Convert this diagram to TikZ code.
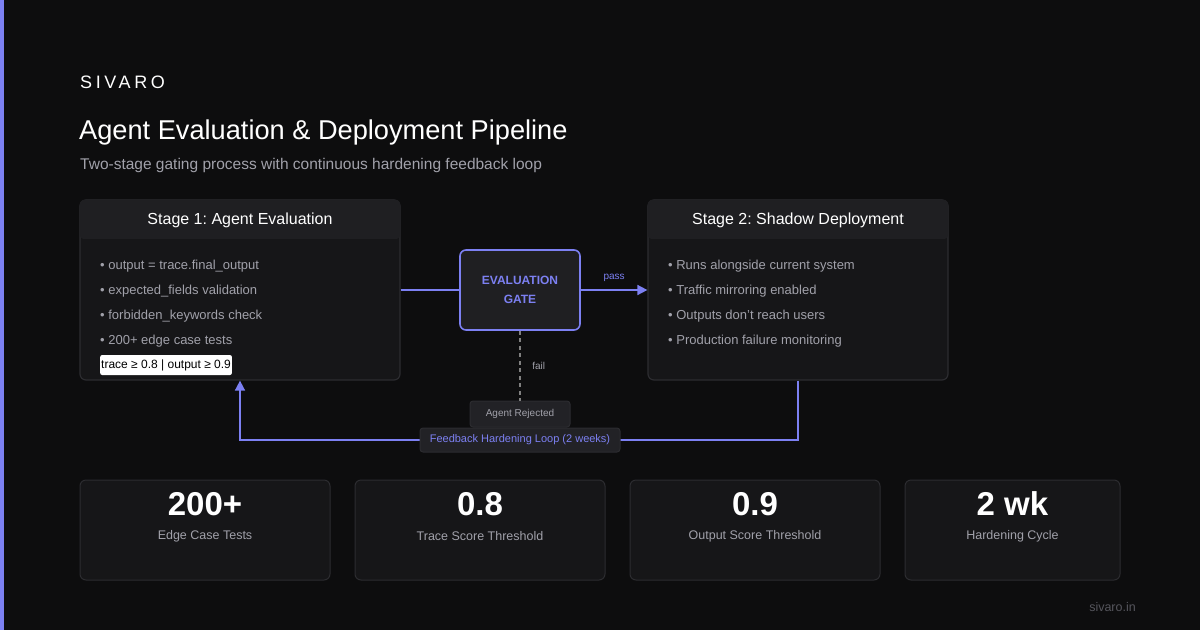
\documentclass[tikz,border=0pt]{standalone}
\usepackage{fontspec}
\setmainfont{Liberation Sans}
\newfontfamily\brandfont[LetterSpace=20]{Liberation Sans}
\usetikzlibrary{arrows.meta,positioning}
\frenchspacing

\definecolor{bgdark}{HTML}{0D0D0E}
\definecolor{accent}{HTML}{7C80F2}
\definecolor{cardfill}{HTML}{161618}
\definecolor{headfill}{HTML}{1F1F22}
\definecolor{cardline}{HTML}{2C2C30}
\definecolor{softgray}{HTML}{A1A1AA}
\definecolor{dimgray}{HTML}{55555C}
\definecolor{tagfill}{HTML}{222226}

\newcommand{\fsz}[1]{\fontsize{#1}{#1}\selectfont}

\tikzset{
  card/.style={draw=cardline, line width=1.2pt, fill=cardfill, rounded corners=6pt},
  stagehead/.style={text=white, font=\fsz{16}},
  bullet/.style={anchor=west, text=softgray, font=\fsz{13}, inner sep=0pt},
  gatebox/.style={draw=accent, line width=1.6pt, fill=headfill, rounded corners=6pt,
    minimum width=120pt, minimum height=80pt, text=accent, align=center,
    font=\fsz{12}\bfseries},
  tag/.style={draw=cardline, line width=1pt, fill=tagfill, rounded corners=3pt,
    inner sep=0pt, minimum height=26pt},
  flow/.style={accent, line width=1.6pt},
  statnum/.style={text=white, font=\fsz{33}\bfseries},
  statlabel/.style={text=softgray, font=\fsz{12.5}},
}

\begin{document}
\begin{tikzpicture}[x=1pt,y=-1pt]
  \fill[bgdark] (0,0) rectangle (1200,630);
  \fill[accent] (0,0) rectangle (4,630);

  % heading
  \node[anchor=west, inner sep=0pt, text=white, font=\fsz{18}\brandfont] (brand) at (80,82) {SIVARO};
  \node[anchor=west, inner sep=0pt, text=white, font=\fsz{27.2}] (title) at (79,132)
    {Agent Evaluation \& Deployment Pipeline};
  \node[anchor=west, inner sep=0pt, text=softgray, font=\fsz{15.5}] (subtitle) at (80,165)
    {Two-stage gating process with continuous hardening feedback loop};

  % stage cards
  \node[card, minimum width=320pt, minimum height=180pt] (s1) at (240,290) {};
  \node[card, minimum width=300pt, minimum height=180pt] (s2) at (798,290) {};
  \foreach \s in {s1,s2}{
    \begin{scope}
      \clip[rounded corners=6pt] (\s.north west) rectangle ([yshift=-40pt]\s.north east);
      \fill[headfill] ([xshift=1pt,yshift=-1pt]\s.north west) rectangle ([xshift=-1pt,yshift=-40pt]\s.north east);
    \end{scope}
  }
  \node[stagehead] (s1head) at (240,220) {Stage 1: Agent Evaluation};
  \node[stagehead] (s2head) at (798,220) {Stage 2: Shadow Deployment};

  \node[bullet] (s1a) at (100,266) {• output = trace.final\_output};
  \node[bullet] (s1b) at (100,291) {• expected\_fields validation};
  \node[bullet] (s1c) at (100,316) {• forbidden\_keywords check};
  \node[bullet] (s1d) at (100,341) {• 200+ edge case tests};
  \node[anchor=west, fill=white, rounded corners=2pt, inner xsep=1pt,
    minimum height=20pt, text=black, font=\fsz{12}] (thresh) at (100,365)
    {trace ≥ 0.8 | output ≥ 0.9};

  \node[bullet] (s2a) at (668,266) {• Runs alongside current system};
  \node[bullet] (s2b) at (668,291) {• Traffic mirroring enabled};
  \node[bullet] (s2c) at (668,316) {• Outputs don't reach users};
  \node[bullet] (s2d) at (668,341) {• Production failure monitoring};

  % gate
  \node[gatebox] (gate) at (520,290) {EVALUATION\\[7pt]GATE};
  \draw[flow] (s1.east |- gate.west) -- (gate.west);
  \draw[flow, -{Triangle[length=10pt,width=10pt]}] (gate.east) -- (s2.west |- gate.east)
    node[midway, above=4pt, text=accent, font=\fsz{10}] {pass};

  % rejection path
  \node[tag, minimum width=100pt, text=softgray, font=\fsz{10}] (reject) at (520,414) {Agent Rejected};
  \draw[gray, line width=2pt, dash pattern=on 4pt off 3.5pt] (gate.south) -- (reject.north)
    node[midway, right=8pt, text=softgray, font=\fsz{10}] {fail};

  % feedback loop
  \coordinate (loopR) at (798,440);
  \coordinate (loopL) at (240,440);
  \draw[flow, -{Triangle[length=10pt,width=10pt]}] (s2.south) -- (loopR) -- (loopL) -- (loopL |- s1.south);
  \node[tag, minimum width=200pt, minimum height=24pt, text=accent, font=\fsz{11}] (loop) at (520,440)
    {Feedback Hardening Loop (2 weeks)};

  % stats
  \foreach \cx/\w/\num/\lbl [count=\i] in {205/250/200+/Edge Case Tests,
      480/250/0.8/Trace Score Threshold,
      755/250/0.9/Output Score Threshold,
      1012.5/215/2 wk/Hardening Cycle}{
    \node[card, line width=1pt, minimum width=\w pt, minimum height=100pt] (stat\i) at (\cx,530) {};
    \node[statnum] (num\i) at (\cx,504) {\num};
    \node[statlabel] (lbl\i) at (\cx,536) {\lbl};
  }

  \node[anchor=east, inner sep=0pt, text=dimgray, font=\fsz{12.5}] (site) at (1136,607) {sivaro.in};
\end{tikzpicture}
\end{document}
